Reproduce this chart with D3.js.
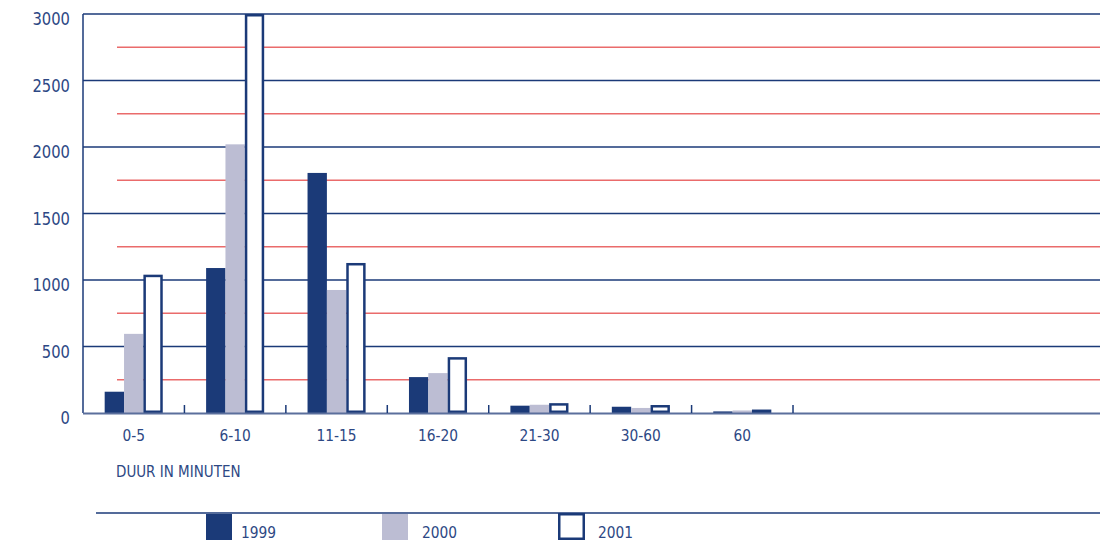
<!DOCTYPE html>
<html>
<head>
<meta charset="utf-8">
<script src="https://cdn.jsdelivr.net/npm/d3@7"></script>
<style>
  html, body { margin: 0; padding: 0; background: #fff; }
  svg { display: block; }
  text { font-family: "DejaVu Sans", sans-serif; fill: #2d4884; }
</style>
</head>
<body>
<svg id="chart" width="1100" height="543"></svg>
<script>
// Duration categories (minutes) and yearly counts
const categories = ["0-5", "6-10", "11-15", "16-20", "21-30", "30-60", "60"];
const years = ["1999", "2000", "2001"];
const values1999 = [160, 1090, 1805, 270, 55, 47, 12];
const values2000 = [595, 2020, 925, 300, 62, 38, 19];
const values2001 = [1040, 3000, 1128, 420, 74, 60, 26];
const yTicks = [0, 500, 1000, 1500, 2000, 2500, 3000];
const yMinorLines = [250, 750, 1250, 1750, 2250, 2750];
const axisTitle = "DUUR IN MINUTEN";

const NAVY = "#1b3a78";
const LILAC = "#bcbdd3";
const RED = "#ea6b6b";

const svg = d3.select("#chart");

const plotLeft = 83, plotRight = 1100, plotTop = 14, plotBottom = 413;
const step = 101.43;

const y = d3.scaleLinear().domain([0, 3000]).range([plotBottom, plotTop]);
const x = d3.scaleBand().domain(categories)
  .range([plotLeft, plotLeft + step * categories.length]).padding(0);
const xi = d3.scaleBand().domain(years)
  .range([0, x.bandwidth()]).paddingInner(0).paddingOuter(1.12);

// Red half-step lines
svg.append("g").selectAll("line").data(yMinorLines).join("line")
  .attr("x1", 117).attr("x2", plotRight)
  .attr("y1", d => y(d)).attr("y2", d => y(d))
  .attr("stroke", RED).attr("stroke-width", 1.4);

// Blue gridlines at each labelled value
svg.append("g").selectAll("line").data(yTicks.filter(d => d > 0)).join("line")
  .attr("x1", plotLeft).attr("x2", plotRight)
  .attr("y1", d => y(d)).attr("y2", d => y(d))
  .attr("stroke", NAVY).attr("stroke-width", 1.3);

// Y axis line
svg.append("line")
  .attr("x1", plotLeft).attr("x2", plotLeft).attr("y1", y(3000)).attr("y2", y(0))
  .attr("stroke", NAVY).attr("stroke-width", 1.5);

// Y labels
svg.append("g").selectAll("text").data(yTicks).join("text")
  .attr("transform", d => `translate(70,${y(d) + 11}) scale(0.82,1)`)
  .attr("text-anchor", "end")
  .attr("font-size", 18)
  .text(d => d);

// Bars
const groups = svg.append("g").selectAll("g").data(categories).join("g")
  .attr("transform", c => `translate(${x(c)},0)`);

groups.append("rect")
  .attr("x", xi("1999")).attr("width", xi.bandwidth())
  .attr("y", (c, i) => y(values1999[i]))
  .attr("height", (c, i) => y(0) - y(values1999[i]))
  .attr("fill", NAVY);

groups.append("rect")
  .attr("x", xi("2000")).attr("width", xi.bandwidth())
  .attr("y", (c, i) => y(values2000[i]))
  .attr("height", (c, i) => y(0) - y(values2000[i]))
  .attr("fill", LILAC);

const sw = 2.5;
groups.append("rect")
  .attr("x", xi("2001") + sw / 2).attr("width", xi.bandwidth() - sw)
  .attr("y", (c, i) => y(values2001[i]) + sw / 2)
  .attr("height", (c, i) => Math.max(0, y(0) - y(values2001[i]) - sw))
  .attr("fill", "#fff").attr("stroke", NAVY).attr("stroke-width", sw);

// X baseline
svg.append("line")
  .attr("x1", plotLeft).attr("x2", plotRight).attr("y1", plotBottom + 0.5).attr("y2", plotBottom + 0.5)
  .attr("stroke", "#5b6f9c").attr("stroke-width", 2);

// Category separator ticks
svg.append("g").selectAll("line").data(categories).join("line")
  .attr("x1", c => x(c) + x.bandwidth()).attr("x2", c => x(c) + x.bandwidth())
  .attr("y1", plotBottom - 8).attr("y2", plotBottom)
  .attr("stroke", NAVY).attr("stroke-width", 1.5);

// Category labels
svg.append("g").selectAll("text").data(categories).join("text")
  .attr("transform", c => `translate(${x(c) + x.bandwidth() / 2},441) scale(0.92,1)`)
  .attr("text-anchor", "middle")
  .attr("font-size", 15)
  .text(c => c);

// Axis title
svg.append("text")
  .attr("transform", "translate(116,477) scale(0.9,1)")
  .attr("font-size", 15)
  .text(axisTitle);

// Legend
svg.append("line")
  .attr("x1", 96).attr("x2", plotRight).attr("y1", 513).attr("y2", 513)
  .attr("stroke", NAVY).attr("stroke-width", 1.5);

const legendX = [206, 382, 558];
const legend = svg.append("g").selectAll("g").data(years).join("g")
  .attr("transform", (d, i) => `translate(${legendX[i]},0)`);

legend.append("rect")
  .attr("x", d => d === "2001" ? 1.25 : 0)
  .attr("y", d => d === "2001" ? 514.25 : 514)
  .attr("width", d => d === "2001" ? 24.5 : 26)
  .attr("height", d => d === "2001" ? 24.5 : 26)
  .attr("fill", d => d === "1999" ? NAVY : d === "2000" ? LILAC : "#fff")
  .attr("stroke", d => d === "2001" ? NAVY : "none")
  .attr("stroke-width", sw);

legend.append("text")
  .attr("transform", (d, i) => `translate(${[35, 40, 40][i]},538) scale(0.92,1)`)
  .attr("font-size", 15)
  .text(d => d);
</script>
</body>
</html>
